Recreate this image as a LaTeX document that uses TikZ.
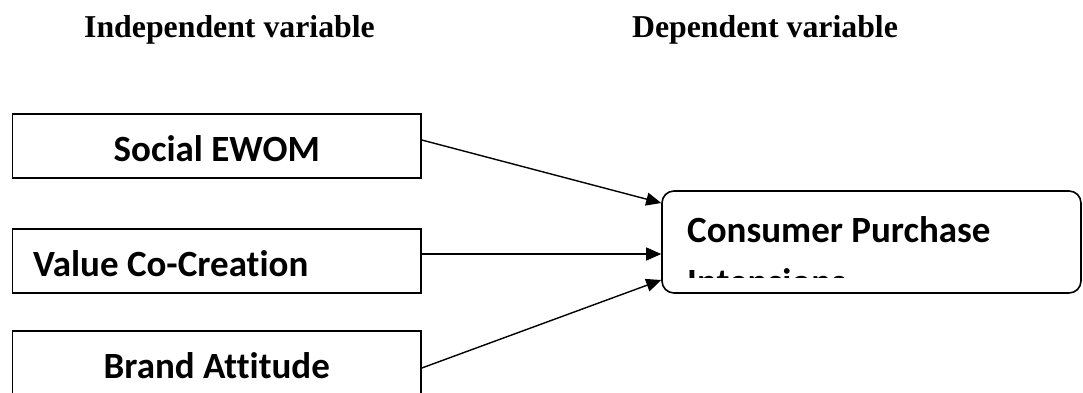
\documentclass[tikz,border=0pt]{standalone}
\usepackage{fontspec}
\newfontfamily\headfont{Liberation Serif}
\newfontfamily\boxfont{Carlito}[Ligatures=NoCommon]
\usepackage{tikz}
\usetikzlibrary{arrows.meta}

\begin{document}
\begin{tikzpicture}[x=1pt,y=1pt,
    head/.style={anchor=base,inner sep=0pt,font=\headfont\bfseries\fontsize{31.8}{36}\selectfont},
    ivbox/.style={draw,line width=1.6pt,minimum width=408.5pt,minimum height=64pt,
        text height=30pt,text depth=0pt,font=\boxfont\bfseries\fontsize{37}{44}\selectfont},
    dvbox/.style={draw,line width=1.6pt,rounded corners=12pt,minimum width=419pt,minimum height=102pt},
    dvtext/.style={anchor=base west,inner sep=0pt,font=\boxfont\bfseries\fontsize{37}{44}\selectfont}]
\useasboundingbox (0,0) rectangle (1083,-392);
\begin{scope}[every node/.style={align=center}]
    \node[head] (indep) at (229.5,-37) {Independent variable};
    \node[head] (dep) at (765,-37) {Dependent variable};
    \node[ivbox] (ewom) at (216.75,-146) {Social EWOM};
    \node[ivbox,text width=367.5pt,inner xsep=20.5pt,align=flush left] (vcc) at (216.75,-261) {Value Co-Creation};
    \node[ivbox] (brand) at (216.75,-363) {Brand Attitude};
    \node[dvbox] (cpi) at (871.5,-242) {};
\end{scope}
% text of the right box is cut off at the bottom
\begin{scope}
    \clip (662,-191) rectangle (1081,-277);
    \node[dvtext] (cpitop) at (687,-242) {Consumer Purchase};
    \node[dvtext] (cpibot) at (687,-294) {Intensions};
\end{scope}
\begin{scope}[>={Triangle[length=15pt,width=13pt]},
              every edge/.style={draw=black,line width=1.4pt}]
    \path [->] ([yshift=6pt]ewom.east) edge ([yshift=39pt]cpi.west);
    \path [->] ([yshift=7pt]vcc.east) edge ([yshift=-12pt]cpi.west);
    \path [->] ([yshift=-5pt]brand.east) edge ([yshift=-38pt]cpi.west);
\end{scope}
\end{tikzpicture}
\end{document}
